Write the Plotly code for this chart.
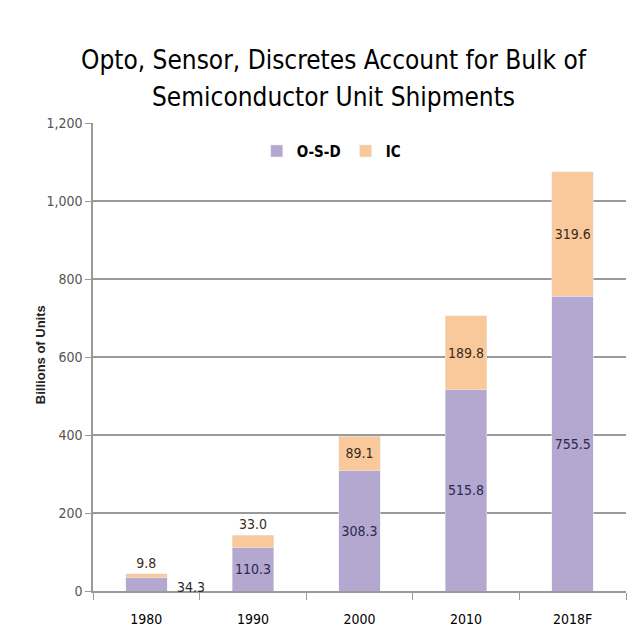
import plotly.graph_objects as go

categories = ["1980", "1990", "2000", "2010", "2018F"]
osd = [34.3, 110.3, 308.3, 515.8, 755.5]
ic = [9.8, 33.0, 89.1, 189.8, 319.6]
y_ticks = [0, 200, 400, 600, 800, 1000, 1200]
y_tick_labels = ["0", "200", "400", "600", "800", "1,000", "1,200"]
title_lines = ["Opto, Sensor, Discretes Account for Bulk of", "Semiconductor Unit Shipments"]
y_title = "Billions of Units"

NARROW = "DejaVu Sans Condensed, Liberation Sans Narrow, sans-serif"
PURPLE = "#b4a7d0"
ORANGE = "#f9c89b"

osd_text = [f"{v:.1f}" for v in osd]
osd_text[0] = ""
ic_text = [f"{v:.1f}" for v in ic]
ic_pos = ["outside", "outside", "inside", "inside", "inside"]

fig = go.Figure()
fig.add_trace(go.Bar(
    x=categories, y=osd, name="O-S-D", marker_color=PURPLE,
    text=osd_text, textposition="inside", insidetextanchor="middle", textangle=0,
    textfont=dict(family=NARROW, size=14, color="#2b2b4a"),
    constraintext="none",
))
fig.add_trace(go.Bar(
    x=categories, y=ic, name="IC", marker_color=ORANGE,
    text=ic_text, textposition=ic_pos, insidetextanchor="middle", textangle=0,
    textfont=dict(family=NARROW, size=14, color="#3a2a1a"),
    constraintext="none", cliponaxis=False,
))

# 1980 O-S-D label sits beside its bar in the original
fig.add_annotation(
    x=0, y=osd[0] / 2 - 8, text=f"{osd[0]:.1f}", showarrow=False,
    xshift=45, font=dict(family=NARROW, size=14, color="#2b2b2b"),
)

# two-line title
fig.add_annotation(
    xref="paper", yref="paper", x=0.452, y=1.1346, xanchor="center", yanchor="middle",
    text=title_lines[0], showarrow=False,
    font=dict(family=NARROW, size=26, color="#000000"),
)
fig.add_annotation(
    xref="paper", yref="paper", x=0.452, y=1.0556, xanchor="center", yanchor="middle",
    text=title_lines[1], showarrow=False,
    font=dict(family=NARROW, size=26, color="#000000"),
)
# y-axis title
fig.add_annotation(
    xref="paper", yref="paper", x=-0.0994, y=0.504, xanchor="center", yanchor="middle",
    text=f"<b>{y_title}</b>", textangle=-90, showarrow=False,
    font=dict(family="Arial, Liberation Sans, sans-serif", size=13, color="#222222"),
)

fig.update_layout(
    barmode="stack",
    bargap=0.61,
    width=629, height=637,
    margin=dict(l=93, r=3, t=123, b=46),
    paper_bgcolor="white", plot_bgcolor="white",
    legend=dict(
        orientation="h", x=0.447, xanchor="center", y=0.975, yanchor="top",
        traceorder="normal", itemwidth=30,
        font=dict(family=NARROW, size=15, color="#000000", weight="bold"),
        bgcolor="rgba(0,0,0,0)",
    ),
    showlegend=True,
)
fig.update_xaxes(
    type="category",
    showline=True, linecolor="#9a9a9a", linewidth=1.5,
    ticks="outside", tickson="boundaries", ticklen=7, tickcolor="#9a9a9a",
    ticklabelstandoff=14,
    tickfont=dict(family=NARROW, size=14, color="#000000"),
)
fig.update_yaxes(
    range=[0, 1200], tickvals=y_ticks, ticktext=y_tick_labels,
    showline=True, linecolor="#9a9a9a", linewidth=1.5,
    showgrid=True, gridcolor="#9a9a9a", gridwidth=1.5,
    ticks="outside", ticklen=6, tickcolor="#9a9a9a",
    tickfont=dict(family=NARROW, size=14, color="#555555"),
    zeroline=False,
)

fig.write_html("out.html")
